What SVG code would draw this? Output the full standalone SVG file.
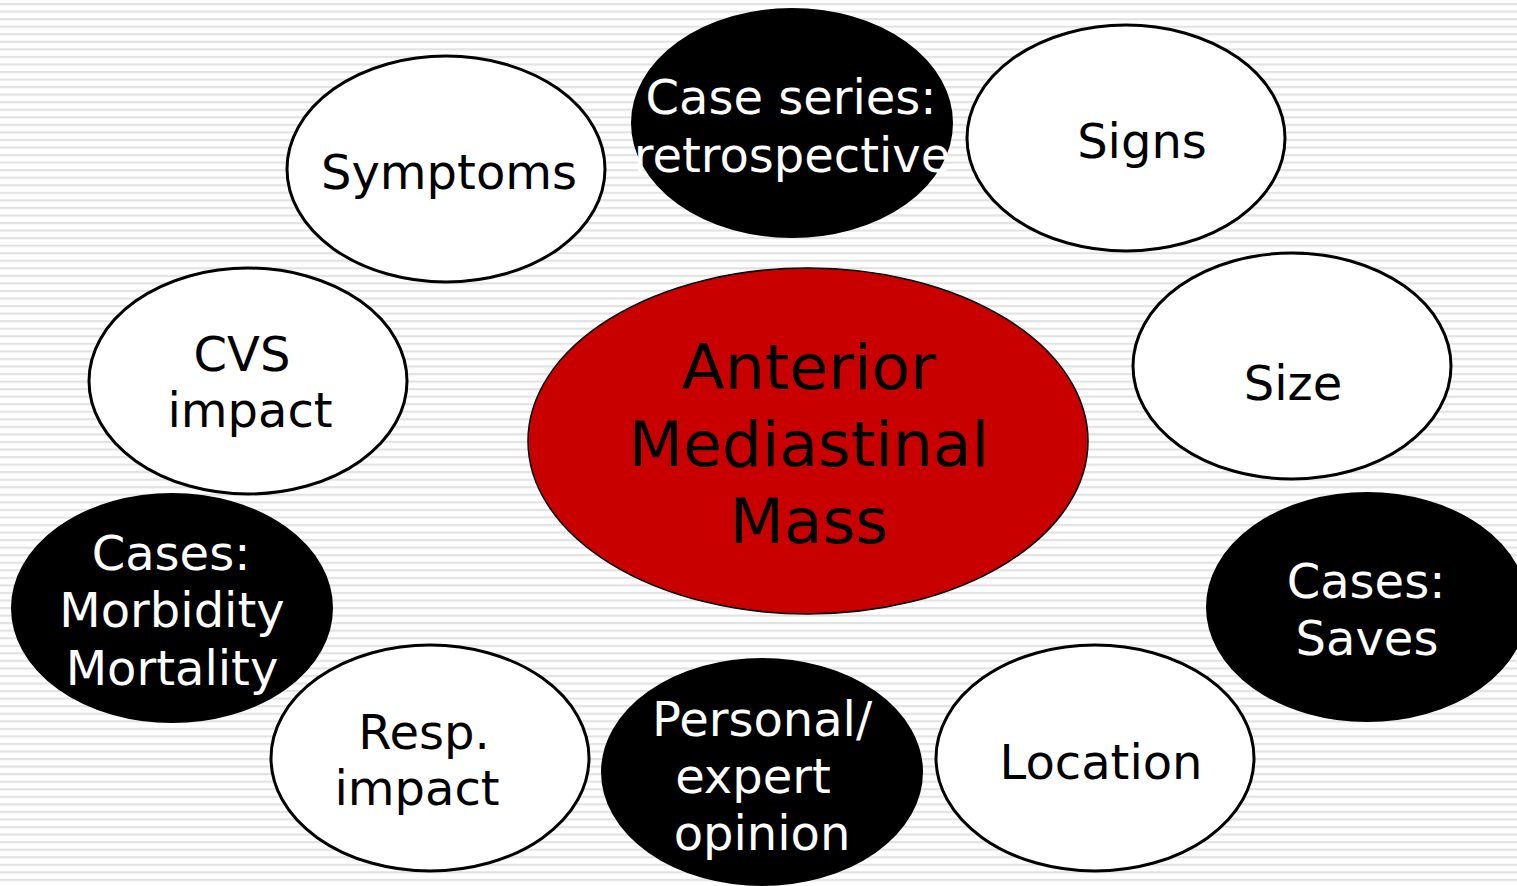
<svg xmlns="http://www.w3.org/2000/svg" width="1517" height="886" viewBox="0 0 1517 886">
<defs>
<pattern id="stripes" x="0" y="3" width="20" height="7.55" patternUnits="userSpaceOnUse">
<rect x="0" y="0" width="20" height="2.2" fill="#e2e2e2"/>
</pattern>
<style>
.w{fill:#ffffff;stroke:#000;stroke-width:3}
.b{fill:#000;stroke:#000;stroke-width:2}
.r{fill:#c80000;stroke:#000;stroke-width:1.5}
text{font-family:"DejaVu Sans",Verdana,sans-serif;font-size:48px;text-anchor:middle}
.wt{fill:#fff}
.bt{fill:#000}
.ct{font-size:63px;fill:#000}
</style>
</defs>
<rect width="1517" height="886" fill="#fff"/>
<rect width="1517" height="886" fill="url(#stripes)"/>
<g id="connectors"></g>
<g id="case-series">
<ellipse class="b" cx="792" cy="123" rx="160" ry="114"/>
<text class="wt" x="791" y="114">Case series:</text>
<text class="wt" x="792" y="172">retrospective</text>
</g>
<g id="symptoms">
<ellipse class="w" cx="446" cy="169" rx="159" ry="113"/>
<text class="bt" x="449" y="189">Symptoms</text>
</g>
<g id="signs">
<ellipse class="w" cx="1126" cy="138" rx="159" ry="113"/>
<text class="bt" x="1142" y="158">Signs</text>
</g>
<g id="cvs">
<ellipse class="w" cx="248" cy="381" rx="159" ry="113"/>
<text class="bt" x="242" y="371">CVS</text>
<text class="bt" x="250" y="427">impact</text>
</g>
<g id="size">
<ellipse class="w" cx="1292" cy="366" rx="159" ry="113"/>
<text class="bt" x="1293" y="400">Size</text>
</g>
<g id="center">
<ellipse class="r" cx="808" cy="441" rx="280" ry="173"/>
<text class="ct" x="809" y="389">Anterior</text>
<text class="ct" x="809" y="466">Mediastinal</text>
<text class="ct" x="809" y="543">Mass</text>
</g>
<g id="cases-morbidity">
<ellipse class="b" cx="172" cy="608" rx="160" ry="114"/>
<text class="wt" x="171" y="570">Cases:</text>
<text class="wt" x="172" y="627">Morbidity</text>
<text class="wt" x="172" y="685">Mortality</text>
</g>
<g id="cases-saves">
<ellipse class="b" cx="1367" cy="607" rx="160" ry="114"/>
<text class="wt" x="1366" y="598">Cases:</text>
<text class="wt" x="1367" y="655">Saves</text>
</g>
<g id="resp">
<ellipse class="w" cx="430" cy="758" rx="159" ry="113"/>
<text class="bt" x="424" y="749">Resp.</text>
<text class="bt" x="417" y="805">impact</text>
</g>
<g id="personal">
<ellipse class="b" cx="762" cy="772" rx="160" ry="113"/>
<text class="wt" x="762" y="736">Personal/</text>
<text class="wt" x="753" y="793">expert</text>
<text class="wt" x="762" y="850">opinion</text>
</g>
<g id="location">
<ellipse class="w" cx="1095" cy="758" rx="159" ry="113"/>
<text class="bt" x="1101" y="779">Location</text>
</g>
</svg>
